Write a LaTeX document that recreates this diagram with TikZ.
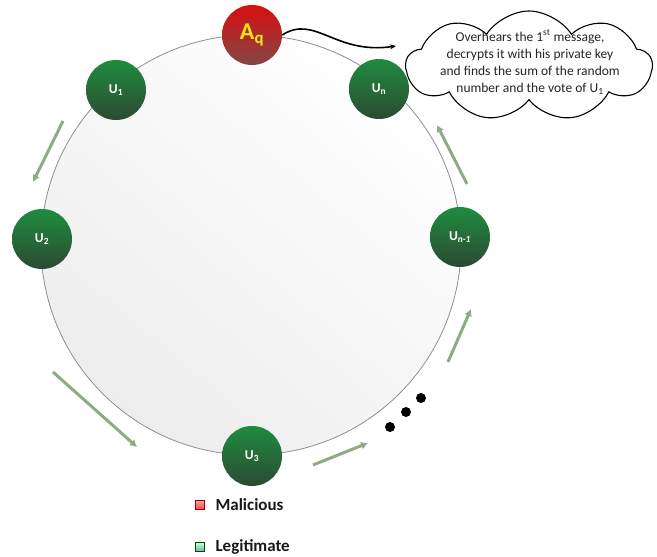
\documentclass[tikz,border=0pt]{standalone}
\usepackage{fontspec}
\setmainfont{Carlito}
\usetikzlibrary{shapes.symbols,arrows.meta}
\definecolor{gtop}{HTML}{1F8C3F}
\definecolor{gbot}{HTML}{2B4A33}
\definecolor{rtop}{HTML}{D80F0F}
\definecolor{rbot}{HTML}{844646}
\definecolor{ringline}{HTML}{8E8E8E}
\definecolor{sage}{HTML}{8FAB84}
\definecolor{aqtext}{HTML}{F7E51C}
\begin{document}
\begin{tikzpicture}[x=1pt,y=-1pt,
  user/.style={circle,minimum size=60pt,inner sep=0pt,top color=gtop,bottom color=gbot,
    text=white,font=\fontsize{13.5}{15}\selectfont\bfseries},
  mal/.style={circle,minimum size=60pt,inner sep=0pt,top color=rtop,bottom color=rbot,
    text=aqtext,font=\fontsize{24}{26}\selectfont\bfseries},
  flow/.style={line width=3pt,draw=sage,-{Latex[length=7pt,width=8pt]}},
  dot/.style={circle,fill=black,minimum size=10pt,inner sep=0pt},
  legbox/.style={rectangle,minimum size=9pt,inner sep=0pt,draw=#1!60!black,line width=0.4pt},
  legtext/.style={anchor=west,font=\fontsize{17}{19}\selectfont\bfseries,text=black!90}]
\useasboundingbox (0,0) rectangle (657,557);
\node[circle,minimum size=420pt,inner sep=0pt,draw=ringline,line width=0.8pt,
  top color=white,bottom color=black!7,shading angle=-40] (ring) at (251,245) {};
% nodes
\node[mal] (aq) at (252,35) {A\textsubscript{q}};
\node[user] (un) at (379,89) {U\textsubscript{n}};
\node[user] (u1) at (116,90) {U\textsubscript{1}};
\node[user] (u2) at (42,239) {U\textsubscript{2}};
\node[user] (unm) at (460,237) {U\textsubscript{\itshape n-1}};
\node[user] (u3) at (252,456) {U\textsubscript{3}};
% dots
\node[dot] (d1) at (390,427) {};
\node[dot] (d2) at (406,412) {};
\node[dot] (d3) at (421,398) {};
% flow arrows
\coordinate (a1s) at (63,121); \coordinate (a1e) at (33,182);
\coordinate (a2s) at (53,372); \coordinate (a2e) at (137,447);
\coordinate (a3s) at (313,465); \coordinate (a3e) at (368,443);
\coordinate (a4s) at (448,362); \coordinate (a4e) at (471,309);
\coordinate (a5s) at (467,184); \coordinate (a5e) at (437,125);
\draw[flow] (a1s) -- (a1e);
\draw[flow] (a2s) -- (a2e);
\draw[flow] (a3s) -- (a3e);
\draw[flow] (a4s) -- (a4e);
\draw[flow] (a5s) -- (a5e);
% cloud
\node[cloud,draw=black,line width=1.1pt,fill=white,cloud puffs=9,cloud puff arc=115,aspect=2.2,
  minimum width=246pt,minimum height=110pt,inner sep=0pt] (cloud) at (529,66) {};
\node[align=center,font=\fontsize{13.5}{17}\selectfont,text=black!85] (ctext) at (530,62)
  {Overhears the 1\textsuperscript{st} message,\\decrypts it with his private key\\and finds the sum of the random\\number and the vote of U\textsubscript{1}};
\coordinate (tip) at (396,46);
\draw[line width=1.6pt,-{Stealth[length=6pt,width=5pt]}] (aq.east) .. controls (315,14) and (335,55) .. (tip);
% legend
\node[legbox=red,top color=red!35,bottom color=red!75] (lr) at (200,505) {};
\node[legtext] (lrt) at (212,505) {Malicious};
\node[legbox=green!50!black,top color=green!20!white,bottom color=teal!60] (lg) at (200,547) {};
\node[legtext] (lgt) at (212,547) {Legitimate};
\end{tikzpicture}
\end{document}
